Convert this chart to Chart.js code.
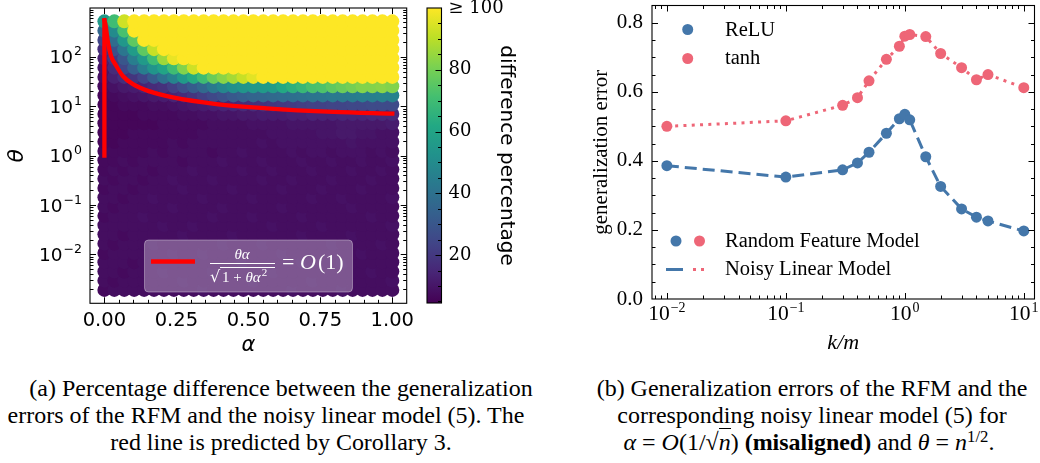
<!DOCTYPE html>
<html><head><meta charset="utf-8">
<script src="https://cdn.jsdelivr.net/npm/chart.js@4.4.0/dist/chart.umd.min.js"></script>
<style>
html,body{margin:0;padding:0;background:#fff;}
#wrap{position:relative;width:1040px;height:463px;overflow:hidden;background:#fff;}
canvas{position:absolute;}
.cl{position:absolute;font-family:'Liberation Serif',serif;font-size:22px;line-height:27px;color:#000;white-space:nowrap;}
.cl sup{font-size:70%;line-height:0;vertical-align:0.5em;}
.rad{border-top:1px solid #000;}
</style></head><body>
<div id="wrap">
<canvas id="heat" width="420" height="360" style="left:0px;top:0px"></canvas>
<canvas id="cbar" width="110" height="360" style="left:420px;top:0px"></canvas>
<canvas id="gen" width="480" height="360" style="left:560px;top:0px"></canvas>
<span class="cl" data-c="281" data-b="397">(a) Percentage difference between the generalization</span>
<span class="cl" data-c="266" data-b="424">errors of the RFM and the noisy linear model (5). The</span>
<span class="cl" data-c="281" data-b="451">red line is predicted by Corollary 3.</span>
<span class="cl" data-c="812" data-b="397">(b) Generalization errors of the RFM and the</span>
<span class="cl" data-c="812" data-b="424">corresponding noisy linear model (5) for</span>
<span class="cl" data-c="809" data-b="451"><i>α</i> = <i>O</i>(1/√<span class="rad"><i>n</i></span>) <b>(misaligned)</b> and <i>θ</i> = <i>n</i><sup>1/2</sup>.</span>
</div>
<script>
// ---------------- data: panel (a) ----------------
const alphaVals = [0, 0.0345, 0.069, 0.1034, 0.1379, 0.1724, 0.2069, 0.2414, 0.2759, 0.3103, 0.3448, 0.3793, 0.4138, 0.4483, 0.4828, 0.5172, 0.5517, 0.5862, 0.6207, 0.6552, 0.6897, 0.7241, 0.7586, 0.7931, 0.8276, 0.8621, 0.8966, 0.931, 0.9655, 1];
const thetaVals = [0.00191, 0.00294, 0.00452, 0.00697, 0.0107, 0.0165, 0.0255, 0.0392, 0.0604, 0.0929, 0.143, 0.221, 0.340, 0.523, 0.806, 1.24, 1.91, 2.94, 4.53, 6.98, 10.8, 16.6, 25.5, 39.3, 60.5, 93.3, 143.6, 221, 340, 525];
// diffPct[row] : row 0 = smallest theta ; one value per alpha column (percent, >=100 saturates)
const diffPct = [
 [7,8,8,8,8,8,8,8,8,8,9,8,8,8,8,8,8,8,8,9,8,8,8,8,9,8,8,8,8,8],
 [8,7,8,8,8,8,8,8,9,8,8,8,8,8,8,9,8,8,8,8,8,9,8,8,8,8,8,8,8,9],
 [8,8,7,8,8,8,9,8,8,8,8,9,8,8,8,8,8,9,8,8,8,8,8,8,8,8,8,9,8,8],
 [8,8,8,7,8,8,8,8,8,8,8,8,8,8,9,8,8,8,8,8,9,8,8,8,9,8,8,8,8,8],
 [7,8,8,8,8,8,8,9,8,8,9,8,8,8,8,8,8,8,9,8,8,8,8,8,8,8,9,8,8,8],
 [8,7,8,8,8,9,8,8,8,8,8,8,9,8,8,8,9,8,8,8,8,8,8,9,8,8,8,8,9,8],
 [8,8,7,8,8,8,8,8,9,8,8,8,8,9,8,8,8,8,8,8,9,8,8,8,8,9,8,8,8,8],
 [8,8,8,8,8,8,9,8,8,9,8,8,8,8,8,8,8,9,8,8,8,8,9,8,8,8,8,8,8,9],
 [7,8,8,8,9,8,8,8,8,8,8,9,8,8,8,9,8,8,8,8,9,8,8,8,8,8,8,9,8,8],
 [8,7,8,8,8,8,8,9,8,8,8,8,9,8,8,8,8,8,9,8,8,8,8,8,8,9,8,8,8,8],
 [8,8,7,8,8,9,8,8,8,8,9,8,8,8,8,9,8,8,8,8,8,9,8,8,9,8,8,8,8,9],
 [7,8,8,7,8,8,8,8,9,8,8,8,8,9,8,8,8,8,9,8,8,8,9,8,8,8,9,8,8,8],
 [8,7,8,8,7,8,8,9,8,8,8,9,8,8,8,8,9,8,8,9,8,8,8,9,8,8,8,9,8,8],
 [7,8,7,8,8,7,8,8,8,9,8,8,8,8,9,8,8,9,8,8,8,9,8,8,8,9,8,8,9,8],
 [7,7,8,7,8,8,8,8,7,8,8,8,9,8,8,8,9,8,8,8,9,8,8,9,8,8,9,8,8,9],
 [7,7,7,7,7,8,7,8,8,8,8,7,8,8,9,8,8,8,8,9,8,9,9,8,9,9,9,8,9,8],
 [6,6,7,7,7,7,7,8,7,8,8,8,8,8,8,8,9,8,9,9,9,9,9,9,9,10,9,9,9,9],
 [6,6,6,7,7,7,7,7,7,7,8,8,8,8,8,8,8,9,9,9,9,9,10,10,11,11,10,10,9,9],
 [6,6,6,6,6,6,7,7,7,7,7,8,8,8,8,9,9,9,9,10,10,10,10,10,11,11,11,11,11,12],
 [6,6,6,6,7,7,7,7,8,8,9,9,10,10,11,11,12,12,12,13,13,14,14,14,15,15,15,16,16,16],
 [6,6,7,7,7,8,8,9,10,11,12,13,14,15,16,17,18,19,20,21,22,23,23,24,24,25,25,26,26,26],
 [6,7,8,9,10,11,12,14,16,19,22,25,28,31,33,35,36,37,38,39,40,41,42,43,43,44,45,45,46,46],
 [7,9,11,12,14,16,18,22,27,32,37,43,48,52,54,55,56,57,62,65,68,72,73,76,78,80,82,82,83,82],
 [9,13,17,19,24,32,40,47,56,63,70,78,83,87,92,96,100,100,100,100,100,100,100,100,100,100,100,100,100,100],
 [10,16,24,33,45,54,60,70,82,93,100,100,100,100,100,100,100,100,100,100,100,100,100,100,100,100,100,100,100,100],
 [13,20,30,45,56,70,86,97,100,100,100,100,100,100,100,100,100,100,100,100,100,100,100,100,100,100,100,100,100,100],
 [17,28,42,57,76,92,100,100,100,100,100,100,100,100,100,100,100,100,100,100,100,100,100,100,100,100,100,100,100,100],
 [24,38,55,76,100,100,100,100,100,100,100,100,100,100,100,100,100,100,100,100,100,100,100,100,100,100,100,100,100,100],
 [36,50,72,100,100,100,100,100,100,100,100,100,100,100,100,100,100,100,100,100,100,100,100,100,100,100,100,100,100,100],
 [56,70,93,100,100,100,100,100,100,100,100,100,100,100,100,100,100,100,100,100,100,100,100,100,100,100,100,100,100,100]
];
// red line
const redVertAlpha = [0, 0];
const redVertTheta = [1, 550];
const redCurveAlpha = [0, 0.0035, 0.0116, 0.023, 0.041, 0.064, 0.099, 0.157, 0.238, 0.389, 0.563, 0.796, 1.0];
const redCurveTheta = [550, 458, 211, 105, 66, 41, 28, 20, 15.1, 11.1, 9.1, 7.7, 7.1];
const heatXTicks = [0, 0.25, 0.5, 0.75, 1];
const heatYTicks = [0.01, 0.1, 1, 10, 100];
const heatYExp = ['\u22122', '\u22121', '0', '1', '2'];
const cbarTicks = [20, 40, 60, 80, 100];
const cbarLabels = ['20', '40', '60', '80', '\u2265 100'];
const cbarMin = 4.5, cbarMax = 100;

// ---------------- data: panel (b) ----------------
const kmVals  = [0.01, 0.1, 0.3, 0.4, 0.5, 0.7, 0.9, 1.0, 1.1, 1.5, 2, 3, 4, 5, 10];
const reluRFM = [0.386, 0.353, 0.374, 0.394, 0.425, 0.480, 0.522, 0.535, 0.519, 0.412, 0.326, 0.261, 0.237, 0.226, 0.197];
const tanhRFM = [0.500, 0.516, 0.561, 0.583, 0.632, 0.694, 0.732, 0.761, 0.766, 0.760, 0.711, 0.670, 0.635, 0.650, 0.612];
const reluNLM = [0.386, 0.353, 0.374, 0.394, 0.425, 0.480, 0.522, 0.535, 0.519, 0.412, 0.326, 0.261, 0.237, 0.226, 0.197];
const tanhNLM = [0.500, 0.516, 0.561, 0.583, 0.632, 0.694, 0.732, 0.761, 0.766, 0.760, 0.711, 0.670, 0.635, 0.650, 0.612];
const genXTicks = [0.01, 0.1, 1, 10];
const genXExp = ['\u22122', '\u22121', '0', '1'];
const genYTicks = [0, 0.2, 0.4, 0.6, 0.8];

// ---------------- styling helpers ----------------
const BLUE = '#4477AA', PINK = '#EE6677';
const VIR = ['#440154','#482475','#414487','#355f8d','#2a788e','#21918c','#22a884','#44bf70','#7ad151','#bddf26','#fde725'];
function hx(h){return [parseInt(h.slice(1,3),16),parseInt(h.slice(3,5),16),parseInt(h.slice(5,7),16)];}
function viridis(t){
  t = Math.max(0, Math.min(1, t));
  const p = t*10, i = Math.min(9, Math.floor(p)), f = p - i;
  const a = hx(VIR[i]), b = hx(VIR[i+1]);
  return 'rgb(' + a.map((c,k)=>Math.round(c + (b[k]-c)*f)).join(',') + ')';
}
function logMinor(lo, hi){
  const out = [];
  for (let e = -4; e <= 3; e++) for (let m = 2; m <= 9; m++) { const v = m*Math.pow(10,e); if (v > lo && v < hi) out.push(v); }
  return out;
}
function stepVals(lo, hi, step){ const out=[]; for (let v = lo; v <= hi + 1e-9; v += step) out.push(+v.toFixed(6)); return out; }
function inTicks(chart, id, values, len, both){
  const s = chart.scales[id], ca = chart.chartArea, ctx = chart.ctx;
  ctx.save(); ctx.strokeStyle = '#000'; ctx.lineWidth = 1; ctx.beginPath();
  values.forEach(v => {
    const p = Math.round(s.getPixelForValue(v)) + 0.5;
    if (s.isHorizontal()) {
      if (p <= ca.left + 1 || p >= ca.right - 1) return;
      ctx.moveTo(p, ca.bottom); ctx.lineTo(p, ca.bottom - len);
      if (both) { ctx.moveTo(p, ca.top); ctx.lineTo(p, ca.top + len); }
    } else {
      if (p <= ca.top + 1 || p >= ca.bottom - 1) return;
      ctx.moveTo(ca.left, p); ctx.lineTo(ca.left + len, p);
      if (both) { ctx.moveTo(ca.right, p); ctx.lineTo(ca.right - len, p); }
    }
  });
  ctx.stroke(); ctx.restore();
}
function frame(chart){
  const ca = chart.chartArea, ctx = chart.ctx;
  ctx.save(); ctx.strokeStyle = '#000'; ctx.lineWidth = 1.1;
  ctx.strokeRect(ca.left, ca.top, ca.right - ca.left, ca.bottom - ca.top);
  ctx.restore();
}
// power-of-ten label: "10" with raised exponent
function powLabel(ctx, x, base, exp, fam, fb, fe, raise, align){
  ctx.save(); ctx.fillStyle = '#000'; ctx.textBaseline = 'alphabetic'; ctx.textAlign = 'left';
  ctx.font = fb + 'px "' + fam + '"'; const wb = ctx.measureText('10').width;
  ctx.font = fe + 'px "' + fam + '"'; const we = ctx.measureText(exp).width;
  const x0 = align === 'right' ? x - wb - we - 1 : x - (wb + we + 1) / 2;
  ctx.font = fb + 'px "' + fam + '"'; ctx.fillText('10', x0, base);
  ctx.font = fe + 'px "' + fam + '"'; ctx.fillText(exp, x0 + wb + 1, base - raise);
  ctx.restore();
}
function rrect(ctx, x, y, w, h, r){
  ctx.beginPath(); ctx.moveTo(x+r, y); ctx.lineTo(x+w-r, y); ctx.quadraticCurveTo(x+w, y, x+w, y+r);
  ctx.lineTo(x+w, y+h-r); ctx.quadraticCurveTo(x+w, y+h, x+w-r, y+h); ctx.lineTo(x+r, y+h);
  ctx.quadraticCurveTo(x, y+h, x, y+h-r); ctx.lineTo(x, y+r); ctx.quadraticCurveTo(x, y, x+r, y); ctx.closePath();
}

function build(){
  Chart.defaults.color = '#000';
  // ---------- heatmap ----------
  const heatPts = [], heatCols = [];
  for (let i = 0; i < alphaVals.length; i++) {
    for (let j = 0; j < thetaVals.length; j++) {
      heatPts.push({x: alphaVals[i], y: thetaVals[j]});
      heatCols.push(viridis((diffPct[j][i] - cbarMin) / (cbarMax - cbarMin)));
    }
  }
  const heatPlugin = {
    id: 'heatDeco',
    afterDraw(chart){
      const ctx = chart.ctx, sy = chart.scales.y;
      inTicks(chart, 'x', heatXTicks, 6, true);
      inTicks(chart, 'x', stepVals(0, 1, 0.05).filter(v => heatXTicks.indexOf(v) < 0), 3.5, true);
      inTicks(chart, 'y', heatYTicks, 6, true);
      inTicks(chart, 'y', logMinor(sy.min, sy.max), 3.5, true);
      frame(chart);
      heatYTicks.forEach((v, k) => powLabel(ctx, 82, sy.getPixelForValue(v) + 6.5, heatYExp[k], 'DejaVu Sans', 18.5, 12.5, 8, 'right'));
      // legend
      ctx.save();
      rrect(ctx, 144.5, 240, 208, 52, 4);
      ctx.fillStyle = 'rgba(255,255,255,0.30)'; ctx.fill();
      ctx.strokeStyle = 'rgba(255,255,255,0.35)'; ctx.lineWidth = 1; ctx.stroke();
      ctx.strokeStyle = '#ff0000'; ctx.lineWidth = 4.3; ctx.beginPath(); ctx.moveTo(151, 261.5); ctx.lineTo(195, 261.5); ctx.stroke();
      ctx.fillStyle = '#fff'; ctx.strokeStyle = '#fff'; ctx.textBaseline = 'alphabetic';
      ctx.font = 'italic 15px "Liberation Serif"'; ctx.textAlign = 'center';
      ctx.fillText('θα', 242, 259);
      ctx.lineWidth = 1; ctx.beginPath(); ctx.moveTo(210, 263.5); ctx.lineTo(275, 263.5); ctx.stroke();
      ctx.textAlign = 'left';
      ctx.font = '16px "DejaVu Serif"'; ctx.fillText('√', 210, 282);
      ctx.beginPath(); ctx.moveTo(220, 267.5); ctx.lineTo(275, 267.5); ctx.stroke();
      ctx.font = '15px "Liberation Serif"'; ctx.fillText('1 + ', 222, 282);
      let w = ctx.measureText('1 + ').width;
      ctx.font = 'italic 15px "Liberation Serif"'; ctx.fillText('θα', 222 + w, 282);
      w += ctx.measureText('θα').width;
      ctx.font = '11px "Liberation Serif"'; ctx.fillText('2', 223 + w, 276);
      ctx.font = '22px "Liberation Serif"'; ctx.fillText('=', 282, 269);
      ctx.font = 'italic 22px "Liberation Serif"'; ctx.fillText('O', 300, 269);
      ctx.font = '22px "Liberation Serif"'; ctx.fillText('(1)', 318, 269);
      ctx.restore();
    }
  };
  new Chart(document.getElementById('heat'), {
    type: 'scatter',
    data: { datasets: [
      { type: 'line', data: redVertAlpha.map((a,k)=>({x:a, y:redVertTheta[k]})), borderColor: '#ff0000', borderWidth: 4.3, pointRadius: 0, borderCapStyle: 'square', order: 0 },
      { type: 'line', data: redCurveAlpha.map((a,k)=>({x:a, y:redCurveTheta[k]})), borderColor: '#ff0000', borderWidth: 4.3, pointRadius: 0, cubicInterpolationMode: 'monotone', borderCapStyle: 'square', order: 0 },
      { data: heatPts, pointRadius: 7, pointHoverRadius: 7, pointBackgroundColor: heatCols, pointBorderWidth: 0, order: 1 }
    ]},
    options: {
      responsive: false, animation: false, events: [],
      layout: { padding: { left: 0, top: 8, right: 13.3, bottom: 0 } },
      plugins: { legend: { display: false }, tooltip: { enabled: false } },
      scales: {
        x: { type: 'linear', min: -0.05, max: 1.05,
          afterBuildTicks: s => { s.ticks = heatXTicks.map(v => ({value: v})); },
          afterFit: s => { s.height = 56.7; s.paddingLeft = 0; s.paddingRight = 0; },
          ticks: { callback: v => Number(v).toFixed(2), font: { family: 'DejaVu Sans', size: 19.5 }, color: '#000', padding: 6, maxRotation: 0, autoSkip: false },
          grid: { display: false, drawTicks: false }, border: { display: false },
          title: { display: true, text: 'α', font: { family: 'DejaVu Sans', size: 21, style: 'italic' }, color: '#000', padding: { top: 0, bottom: 2 } } },
        y: { type: 'logarithmic', min: Math.pow(10, -2.99), max: Math.pow(10, 2.99),
          afterBuildTicks: s => { s.ticks = heatYTicks.map(v => ({value: v})); },
          afterFit: s => { s.width = 90; s.paddingTop = 0; s.paddingBottom = 0; },
          ticks: { display: false },
          grid: { display: false, drawTicks: false }, border: { display: false },
          title: { display: true, text: 'θ', font: { family: 'DejaVu Sans', size: 22, style: 'italic' }, color: '#000', padding: { top: 4, bottom: 0 } } }
      }
    },
    plugins: [heatPlugin]
  });

  // ---------- colorbar ----------
  const cbarPlugin = {
    id: 'cbarDeco',
    beforeDatasetsDraw(chart){
      const ca = chart.chartArea, ctx = chart.ctx;
      const g = ctx.createLinearGradient(0, ca.bottom, 0, ca.top);
      VIR.forEach((c, k) => g.addColorStop(k / 10, c));
      ctx.save(); ctx.fillStyle = g; ctx.fillRect(ca.left, ca.top, ca.right - ca.left, ca.bottom - ca.top); ctx.restore();
    },
    afterDraw(chart){
      const ca = chart.chartArea, ctx = chart.ctx, s = chart.scales.y;
      ctx.save(); ctx.strokeStyle = '#000'; ctx.lineWidth = 1; ctx.beginPath();
      stepVals(5, 95, 5).forEach(v => {
        const p = Math.round(s.getPixelForValue(v)) + 0.5;
        const len = (v % 20 === 0) ? 6 : 3.5;
        ctx.moveTo(ca.right, p); ctx.lineTo(ca.right - len, p);
      });
      ctx.stroke(); ctx.restore();
      frame(chart);
    }
  };
  new Chart(document.getElementById('cbar'), {
    type: 'scatter',
    data: { datasets: [] },
    options: {
      responsive: false, animation: false, events: [],
      layout: { padding: { left: 7, top: 8, right: 0, bottom: 57 } },
      plugins: { legend: { display: false }, tooltip: { enabled: false } },
      scales: {
        x: { display: false, min: 0, max: 1 },
        y: { position: 'right', min: cbarMin, max: cbarMax,
          afterBuildTicks: s => { s.ticks = cbarTicks.map(v => ({value: v})); },
          afterFit: s => { s.width = 88.5; s.paddingTop = 0; s.paddingBottom = 0; },
          ticks: { callback: v => cbarLabels[cbarTicks.indexOf(v)], font: { family: 'DejaVu Serif', size: 18 }, color: '#000', padding: 7, autoSkip: false },
          grid: { display: false, drawTicks: false }, border: { display: false },
          title: { display: true, text: 'difference percentage', font: { family: 'DejaVu Sans', size: 20 }, color: '#000', padding: { top: 12, bottom: 0 } } }
      }
    },
    plugins: [cbarPlugin]
  });

  // ---------- panel (b) ----------
  const genPlugin = {
    id: 'genDeco',
    afterDraw(chart){
      const ctx = chart.ctx, sx = chart.scales.x;
      inTicks(chart, 'x', genXTicks, 6, true);
      inTicks(chart, 'x', logMinor(sx.min, sx.max), 3.5, true);
      inTicks(chart, 'y', genYTicks, 6, true);
      inTicks(chart, 'y', [0.05,0.1,0.15,0.25,0.3,0.35,0.45,0.5,0.55,0.65,0.7,0.75], 3.5, true);
      frame(chart);
      genXTicks.forEach((v, k) => powLabel(ctx, sx.getPixelForValue(v), 320, genXExp[k], 'Liberation Serif', 21.5, 14, 8.5, 'center'));
      // legends
      ctx.save();
      const dot = (x, y, c) => { ctx.fillStyle = c; ctx.beginPath(); ctx.arc(x, y, 5.5, 0, 2*Math.PI); ctx.fill(); };
      dot(687.7 - 560, 29.5, BLUE); dot(687.7 - 560, 58.5, PINK);
      dot(676 - 560, 241, BLUE); dot(699.5 - 560, 241, PINK);
      ctx.lineWidth = 3; ctx.strokeStyle = BLUE; ctx.beginPath(); ctx.moveTo(666 - 560, 269.5); ctx.lineTo(683 - 560, 269.5); ctx.stroke();
      ctx.strokeStyle = PINK; ctx.setLineDash([3, 5]); ctx.beginPath(); ctx.moveTo(693 - 560, 269.5); ctx.lineTo(705 - 560, 269.5); ctx.stroke();
      ctx.setLineDash([]);
      ctx.fillStyle = '#000'; ctx.font = '20.5px "Liberation Serif"'; ctx.textBaseline = 'middle'; ctx.textAlign = 'left';
      ctx.fillText('ReLU', 725 - 560, 31);
      ctx.fillText('tanh', 725 - 560, 59);
      ctx.fillText('Random Feature Model', 725 - 560, 242);
      ctx.fillText('Noisy Linear Model', 725 - 560, 270);
      ctx.restore();
    }
  };
  new Chart(document.getElementById('gen'), {
    type: 'scatter',
    data: { datasets: [
      { type: 'line', data: kmVals.map((k,i)=>({x:k, y:reluNLM[i]})), borderColor: BLUE, borderWidth: 3, borderDash: [12, 6], pointRadius: 0, order: 2 },
      { type: 'line', data: kmVals.map((k,i)=>({x:k, y:tanhNLM[i]})), borderColor: PINK, borderWidth: 3, borderDash: [3, 5.3], pointRadius: 0, order: 2 },
      { data: kmVals.map((k,i)=>({x:k, y:reluRFM[i]})), pointRadius: 5.5, pointHoverRadius: 5.5, pointBackgroundColor: BLUE, pointBorderWidth: 0, order: 1 },
      { data: kmVals.map((k,i)=>({x:k, y:tanhRFM[i]})), pointRadius: 5.5, pointHoverRadius: 5.5, pointBackgroundColor: PINK, pointBorderWidth: 0, order: 1 }
    ]},
    options: {
      responsive: false, animation: false, events: [],
      layout: { padding: { left: 0, top: 3.3, right: 1, bottom: 0 } },
      plugins: { legend: { display: false }, tooltip: { enabled: false } },
      scales: {
        x: { type: 'logarithmic', min: Math.pow(10, -2.125), max: Math.pow(10, 1.09),
          afterBuildTicks: s => { s.ticks = genXTicks.map(v => ({value: v})); },
          afterFit: s => { s.height = 61; s.paddingLeft = 0; s.paddingRight = 0; },
          ticks: { display: false },
          grid: { display: false, drawTicks: false }, border: { display: false },
          title: { display: true, text: 'k/m', font: { family: 'Liberation Serif', size: 22, style: 'italic' }, color: '#000', padding: { top: 0, bottom: 4 } } },
        y: { type: 'linear', min: 0, max: 0.85,
          afterBuildTicks: s => { s.ticks = genYTicks.map(v => ({value: v})); },
          afterFit: s => { s.width = 92; s.paddingTop = 0; s.paddingBottom = 0; },
          ticks: { callback: v => Number(v).toFixed(1), font: { family: 'Liberation Serif', size: 21 }, color: '#000', padding: 9, autoSkip: false },
          grid: { display: false, drawTicks: false }, border: { display: false },
          title: { display: true, text: 'generalization error', font: { family: 'Liberation Serif', size: 21 }, color: '#000', padding: { top: 29, bottom: 0 } } }
      }
    },
    plugins: [genPlugin]
  });

  // captions: one common font size (set so the widest line of (a) matches the reference), lines centred
  const lines = Array.from(document.querySelectorAll('.cl'));
  const w22 = lines[1].getBoundingClientRect().width;
  const fs = Math.min(26, Math.max(18, 22 * 517 / w22));
  lines.forEach(el => {
    el.style.fontSize = fs + 'px';
    const w = el.getBoundingClientRect().width;
    const C = +el.dataset.c, B = +el.dataset.b;
    el.style.left = (C - w / 2) + 'px';
    el.style.top = (B - ((27 - 1.107 * fs) / 2 + 0.891 * fs)) + 'px';
  });
}

const fontsToLoad = ['19px "DejaVu Sans"', 'italic 19px "DejaVu Sans"', '18px "DejaVu Serif"', '19px "Liberation Serif"', 'italic 19px "Liberation Serif"', 'bold 19px "Liberation Serif"'];
Promise.all(fontsToLoad.map(f => document.fonts.load(f).catch(() => null))).then(build, build);
</script>
</body></html>
